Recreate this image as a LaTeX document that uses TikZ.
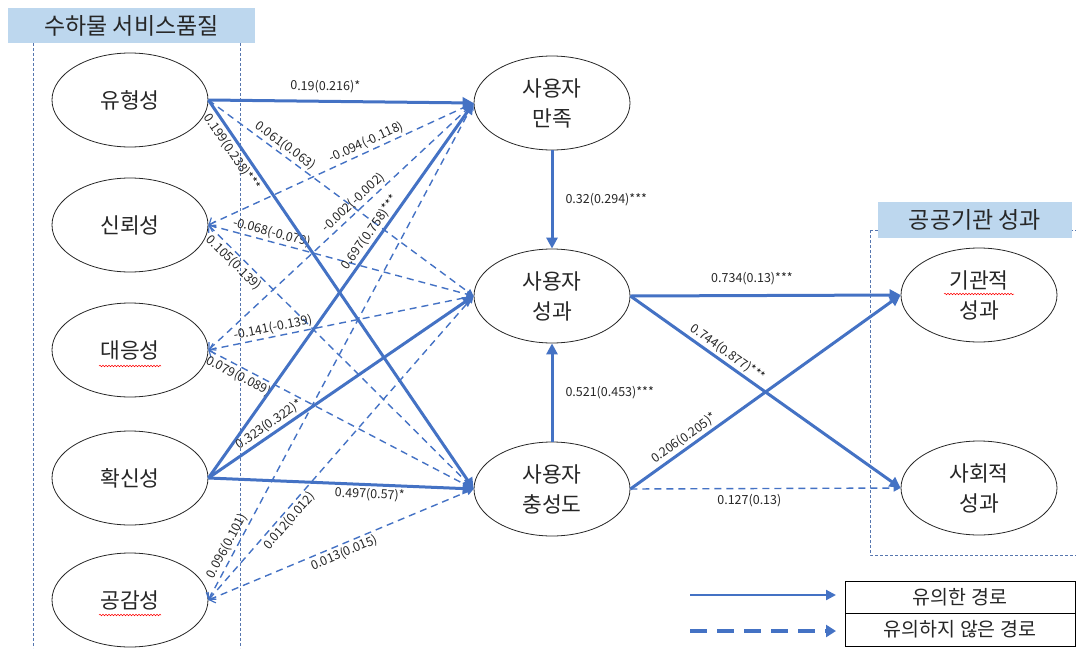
\documentclass[tikz,border=0pt]{standalone}
\usepackage{fontspec}
\setmainfont{Noto Sans CJK KR}
\usetikzlibrary{arrows.meta,shapes.geometric,decorations.pathmorphing}
\definecolor{pblue}{HTML}{4472C4}
\definecolor{tblue}{HTML}{BDD7EE}
\definecolor{txt}{HTML}{262626}
\begin{document}
\begin{tikzpicture}[x=1pt,y=-1pt,
  ell/.style={draw=black!85, line width=0.8pt, ellipse, minimum width=156pt, minimum height=94pt, align=center, font=\fontsize{21.5}{30}\selectfont, text=txt, inner sep=0pt},
  sig/.style={draw=pblue, line width=3pt, -{Triangle[length=11pt,width=11pt]}},
  nsig/.style={draw=pblue, line width=1.4pt, dash pattern=on 7pt off 5pt, -{Triangle[length=7pt,width=7pt]}},
  back/.style={{Straight Barb[length=5pt,width=11pt,line width=1.2pt]}-{Triangle[length=7pt,width=7pt]}},
  lab/.style={font=\fontsize{12.5}{13}\selectfont, text=txt, sloped, inner sep=2pt},
  flab/.style={font=\fontsize{12.5}{13}\selectfont, text=txt, inner sep=2pt},
  title/.style={fill=tblue, text=txt, font=\fontsize{23}{25}\selectfont, inner sep=0pt},
  grp/.style={draw=pblue!70!gray, line width=0.7pt, dash pattern=on 3pt off 2pt},
  wavy/.style={draw=red, line width=0.5pt, decorate, decoration={snake, amplitude=0.8pt, segment length=3pt}},
  legtxt/.style={font=\fontsize{19.5}{21}\selectfont, text=txt}
]
\useasboundingbox (0,0) rectangle (1076,648);

% group frames
\draw[grp] (33,43) -- (33,648);
\draw[grp] (240,43) -- (240,648);
\node[title, minimum width=247pt, minimum height=35pt] (t1) at (131.5,25.5) {수하물 서비스품질};
\draw[grp] (870,230) -- (870,555) -- (1076,555);
\draw[grp] (870,230) -- (1076,230);
\node[title, minimum width=194pt, minimum height=36pt] (t2) at (975,220) {공공기관 성과};

% nodes
\node[ell] (a) at (130,100) {유형성};
\node[ell] (b) at (130,225) {신뢰성};
\node[ell] (c) at (130,350) {대응성};
\node[ell] (d) at (130,478) {확신성};
\node[ell] (e) at (130,600) {공감성};
\node[ell] (m) at (552,103) {사용자\\만족};
\node[ell] (p) at (552,296) {사용자\\성과};
\node[ell] (l) at (552,489) {사용자\\충성도};
\node[ell] (g) at (979,295) {기관적\\성과};
\node[ell] (s) at (979,488) {사회적\\성과};

% spell-check underlines
\draw[wavy] (99,366) -- (161,366);
\draw[wavy] (99,615) -- (161,615);
\draw[wavy] (944,294) -- (1014,294);

% non-significant paths
\draw[nsig] (a.east) -- (p.west) node[lab, pos=.27, above] {0.061(0.063)};
\draw[nsig, back] (b.east) -- (m.west) node[lab, pos=.61, above] {-0.094(-0.118)};
\draw[nsig, back] (b.east) -- (p.west) node[lab, pos=.23, above] {-0.068(-0.079)};
\draw[nsig, back] (b.east) -- (l.west) node[lab, pos=.12, below] {0.105(0.139)};
\draw[nsig, back] (c.east) -- (m.west) node[lab, pos=.57, above] {-0.002(-0.002)};
\draw[nsig, back] (c.east) -- (p.west) node[lab, pos=.25, above] {-0.141(-0.139)};
\draw[nsig, back] (c.east) -- (l.west) node[lab, pos=.13, below] {0.079(0.089)};
\draw[nsig, back] (e.east) -- (m.west) node[lab, pos=.1, above] {0.096(0.101)};
\draw[nsig, back] (e.east) -- (p.west) node[lab, pos=.28, below] {0.012(0.012)};
\draw[nsig, back] (e.east) -- (l.west) node[lab, pos=.5, below] {0.013(0.015)};
\draw[nsig] (l.east) -- (s.west) node[lab, pos=.44, below=3pt] {0.127(0.13)};

% significant paths
\draw[sig] (a.east) -- (m.west) node[lab, pos=.44, above=5pt] {0.19(0.216)*};
\draw[sig] (a.east) -- (l.west) node[lab, pos=.12, below] {0.199(0.238)***};
\draw[sig] (d.east) -- (m.west) node[lab, pos=.64, above] {0.697(0.758)***};
\draw[sig] (d.east) -- (p.west) node[lab, pos=.25, above] {0.323(0.322)*};
\draw[sig] (d.east) -- (l.west) node[lab, pos=.61, below] {0.497(0.57)*};
\draw[sig] (m.south) -- (p.north) node[flab, midway, right=10pt] {0.32(0.294)***};
\draw[sig] (l.north) -- (p.south) node[flab, midway, right=10pt] {0.521(0.453)***};
\draw[sig] (p.east) -- (g.west) node[lab, pos=.45, above=7pt] {0.734(0.13)***};
\draw[sig] (p.east) -- (s.west) node[lab, pos=.34, above] {0.744(0.877)***};
\draw[sig] (l.east) -- (g.west) node[lab, pos=.22, above] {0.206(0.205)*};

% legend
\coordinate (ls1) at (690,595);
\coordinate (le1) at (836,595);
\coordinate (ls2) at (690,631);
\coordinate (le2) at (836,631);
\draw[draw=pblue, line width=2.2pt, -{Triangle[length=10pt,width=10pt]}] (ls1) -- (le1);
\draw[draw=pblue, line width=4pt, dash pattern=on 17pt off 10pt, -{Triangle[length=10pt,width=12pt]}] (ls2) -- (le2);
\node[draw=black, line width=0.8pt, minimum width=230pt, minimum height=32pt, legtxt, inner sep=0pt] (k1) at (960,597) {유의한 경로};
\node[draw=black, line width=0.8pt, minimum width=230pt, minimum height=33pt, legtxt, inner sep=0pt] (k2) at (960,629.5) {유의하지 않은 경로};
\end{tikzpicture}
\end{document}
